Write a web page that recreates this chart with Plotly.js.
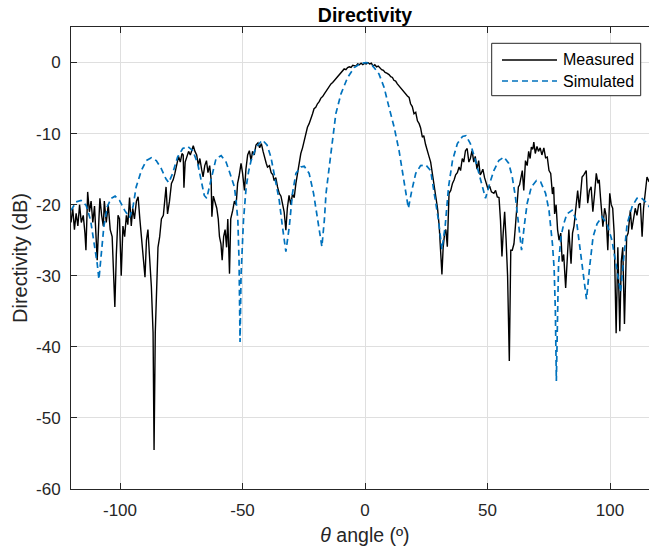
<!DOCTYPE html>
<html>
<head>
<meta charset="utf-8">
<script src="https://cdn.plot.ly/plotly-3.0.1.min.js"></script>
<style>
  html, body { margin: 0; padding: 0; overflow: hidden; background: #fff; }
  #chart { width: 661px; height: 548px; }
</style>
</head>
<body>
<div id="chart"></div>
<script>
// Measured directivity (dB) versus theta (deg)
const measuredTheta = [
  -120, -119.3, -118.6, -117.9, -117.2, -116.5, -115.8, -115.0, -114.3, -113.9,
  -113.2, -112.5, -111.8, -111.1, -110.4, -109.6, -109.3, -108.6, -108.2, -107.5,
  -106.8, -106.4, -105.6, -104.8, -104.0, -103.2, -102.6, -102.1, -101.5, -100.8,
  -100.2, -99.5, -98.8, -98.1, -97.4, -96.8, -96.1, -95.4, -94.8, -94.1,
  -93.3, -92.6, -91.9, -91.2, -90.5, -89.8, -89.2, -88.6, -88.0, -87.2,
  -86.5, -86.1, -85.6, -85.0, -84.5, -83.8, -83.1, -82.3, -81.6, -81.2,
  -80.6, -79.8, -79.0, -78.3, -77.6, -76.9, -76.1, -75.4, -74.7, -74.2,
  -73.9, -73.4, -72.7, -72.0, -71.3, -70.6, -70.1, -69.4, -68.7, -68.0,
  -67.4, -66.7, -66.1, -65.4, -64.7, -64.1, -63.4, -62.8, -62.5, -61.9,
  -61.2, -60.5, -59.9, -59.4, -58.8, -58.3, -57.7, -57.1, -56.5, -56.0,
  -55.3, -54.8, -54.0, -53.3, -52.6, -52.0, -51.4, -50.6, -50.0, -49.2,
  -48.6, -47.9, -47.2, -46.5, -45.9, -45.2, -44.5, -43.7, -43.0, -42.3,
  -41.6, -41.0, -40.3, -39.8, -39.0, -38.3, -37.6, -37.1, -36.4, -35.7,
  -35.0, -34.3, -33.7, -33.0, -32.3, -31.7, -31.0, -30.3, -29.6, -28.9,
  -28.2, -27.5, -26.9, -26.2, -25.5, -24.8, -24.1, -23.5, -22.8, -22.1,
  -21.4, -20.8, -20.1, -19.4, -18.7, -18.0, -17.3, -16.6, -15.9, -15.2,
  -14.5, -13.9, -13.2, -12.5, -11.8, -11.2, -10.5, -9.8, -9.1, -8.5,
  -7.8, -7.1, -6.4, -5.7, -5.0, -4.4, -3.7, -3.0, -2.3, -1.6,
  -0.9, -0.2, 0.5, 1.2, 1.9, 2.6, 3.3, 4.0, 4.7, 5.4,
  6.1, 6.8, 7.5, 8.2, 8.9, 9.8, 10.5, 11.2, 11.8, 12.5,
  13.2, 13.9, 14.6, 15.2, 15.9, 16.6, 17.3, 18.0, 18.6, 19.3,
  20.0, 20.7, 21.4, 22.1, 22.7, 23.4, 24.0, 24.7, 25.4, 26.2,
  26.8, 27.5, 28.2, 28.9, 29.6, 30.3, 30.9, 31.4, 31.9, 32.5,
  33.0, 33.6, 34.3, 35.0, 35.7, 36.4, 37.0, 37.7, 38.4, 39.0,
  39.7, 40.3, 41.0, 41.7, 42.4, 43.0, 43.7, 44.4, 45.0, 45.7,
  46.4, 47.0, 47.4, 48.1, 48.8, 49.6, 50.2, 50.9, 51.6, 52.6,
  53.3, 54.0, 54.7, 55.3, 55.9, 56.4, 57.0, 57.6, 58.2, 58.9,
  59.5, 60.1, 60.8, 61.4, 61.9, 62.6, 63.1, 63.7, 64.2, 64.8,
  65.5, 66.2, 66.8, 67.4, 67.9, 68.5, 68.9, 69.5, 70.2, 70.8,
  71.5, 72.2, 73.0, 73.7, 74.4, 75.1, 75.8, 76.5, 77.0, 77.4,
  78.0, 78.6, 79.2, 79.9, 80.5, 81.1, 81.9, 82.5, 83.2, 84.1,
  84.7, 85.3, 85.8, 86.4, 86.8, 87.5, 88.1, 88.6, 89.3, 90.3,
  90.9, 91.6, 92.3, 93.0, 93.7, 94.4, 95.1, 95.6, 96.1, 96.6,
  97.1, 97.8, 98.4, 99.1, 99.9, 100.5, 101.1, 101.7, 102.1, 102.5,
  103.2, 104.0, 104.6, 105.2, 105.9, 106.2, 106.8, 107.4, 108.3, 108.9,
  109.6, 110.3, 111.0, 111.7, 112.4, 113.1, 113.7, 114.4, 115.1, 116.0
];
const measuredDir = [
  -22.5, -20.5, -23.5, -21.2, -23.0, -20.0, -22.5, -21.5, -24.0, -26.4,
  -18.2, -21.0, -19.5, -22.5, -20.2, -25.0, -27.8, -22.0, -19.1, -21.5,
  -23.0, -19.5, -22.5, -20.0, -23.5, -24.5, -29.0, -34.4, -27.0, -21.5,
  -22.0, -30.0, -23.0, -24.5, -21.5, -22.8, -19.0, -23.0, -20.5, -22.0,
  -19.5, -18.9, -22.0, -24.5, -27.8, -30.2, -25.0, -23.5, -27.0, -31.5,
  -38.0, -54.5, -38.0, -31.0, -26.0, -24.5, -22.0, -21.5, -18.5, -17.5,
  -21.3, -19.5, -17.0, -16.5, -15.6, -14.5, -13.2, -14.0, -12.8, -13.0,
  -17.6, -14.0, -13.2, -12.5, -13.0, -12.2, -11.7, -12.5, -13.0, -14.5,
  -13.5, -15.0, -16.1, -14.5, -13.8, -15.5, -14.5, -16.5, -21.7, -18.8,
  -19.5, -20.5, -22.0, -24.5, -25.5, -27.8, -24.5, -23.5, -26.0, -22.0,
  -29.7, -22.0, -20.8, -19.5, -20.0, -17.0, -16.0, -14.2, -15.5, -18.0,
  -15.0, -13.0, -12.4, -13.8, -12.5, -13.0, -11.6, -11.3, -12.0, -11.4,
  -12.5, -13.5, -14.2, -14.7, -14.5, -15.5, -15.8, -16.6, -16.2, -17.5,
  -18.4, -18.8, -19.8, -21.0, -23.6, -20.5, -18.7, -20.0, -18.5, -19.0,
  -17.0, -15.5, -14.8, -12.8, -12.0, -11.0, -10.3, -9.1, -8.6, -7.7,
  -7.2, -6.5, -6.3, -5.8, -5.5, -5.0, -4.8, -4.4, -4.0, -3.6,
  -3.3, -3.0, -2.8, -2.5, -2.2, -2.1, -1.7, -1.5, -1.2, -0.9,
  -1.0, -0.7, -0.6, -0.7, -0.4, -0.4, -0.5, -0.2, -0.3, -0.1,
  -0.3, -0.1, -0.2, 0.0, -0.2, -0.1, -0.5, -0.3, -0.6, -0.5,
  -0.8, -1.0, -1.1, -1.4, -1.5, -1.7, -2.0, -2.1, -2.5, -2.6,
  -3.0, -3.3, -3.6, -3.9, -4.1, -4.5, -4.7, -4.9, -5.8, -6.2,
  -7.2, -7.0, -8.2, -8.6, -9.2, -10.5, -10.3, -11.5, -12.2, -13.3,
  -14.0, -15.6, -16.8, -18.4, -20.5, -23.1, -26.5, -29.8, -26.0, -24.0,
  -23.5, -25.9, -18.4, -18.0, -17.0, -16.5, -15.8, -15.5, -14.7, -15.2,
  -13.5, -14.0, -12.4, -12.1, -14.0, -13.5, -12.4, -14.0, -13.2, -15.0,
  -13.8, -15.8, -15.6, -15.0, -16.2, -17.3, -17.8, -17.4, -18.2, -18.4,
  -18.0, -18.9, -19.0, -22.2, -27.3, -24.0, -21.0, -25.0, -30.0, -42.0,
  -26.4, -26.4, -25.5, -23.0, -20.8, -17.5, -17.2, -16.0, -15.2, -18.0,
  -13.8, -14.5, -12.5, -13.5, -11.9, -12.2, -11.2, -12.8, -11.8, -12.5,
  -12.0, -13.0, -12.0, -13.4, -13.3, -15.2, -15.6, -18.5, -17.5, -21.3,
  -20.0, -23.5, -25.0, -24.0, -28.0, -27.0, -31.7, -28.0, -23.5, -28.3,
  -24.0, -23.0, -21.5, -19.5, -18.0, -20.5, -17.5, -16.1, -15.8, -15.2,
  -19.8, -18.0, -17.5, -21.0, -18.5, -15.6, -17.0, -16.5, -18.9, -21.0,
  -23.1, -20.5, -21.5, -26.4, -18.4, -20.0, -20.5, -24.0, -31.0, -38.1,
  -26.0, -37.8, -28.0, -26.0, -36.8, -33.0, -24.5, -24.0, -20.8, -23.5,
  -22.0, -20.5, -21.5, -20.0, -19.8, -24.5, -20.5, -18.0, -16.1, -16.8
];

// Simulated directivity (dB) versus theta (deg)
const simTheta = [
  -120, -117.9, -115.9, -113.8, -112.0, -110.7, -109.3, -108.6, -107.7, -106.6,
  -105.2, -103.6, -102.0, -100.2, -98.1, -96.1, -94.7, -93.4, -91.3, -89.3,
  -87.2, -85.2, -83.2, -81.2, -80.1, -78.5, -76.5, -74.4, -72.4, -70.3,
  -68.3, -66.9, -65.6, -64.6, -63.5, -62.1, -60.8, -58.7, -56.7, -55.1,
  -53.3, -52.6, -51.9, -51.4, -51.0, -50.6, -50.1, -49.6, -48.5, -47.5,
  -46.5, -44.4, -41.9, -40.0, -38.4, -36.4, -35.0, -33.7, -32.3, -30.9,
  -29.6, -28.2, -26.2, -24.8, -22.8, -21.0, -19.4, -17.6, -16.6, -15.9,
  -14.6, -13.2, -11.9, -9.8, -7.1, -4.4, -1.6, 0.5, 3.0, 5.7,
  7.8, 9.8, 11.9, 13.9, 15.5, 16.6, 17.7, 19.1, 20.7, 22.7,
  24.8, 26.8, 28.2, 30.0, 31.4, 32.7, 34.1, 35.7, 37.7, 39.8,
  41.2, 43.0, 45.1, 46.9, 48.5, 49.2, 50.9, 52.6, 54.6, 56.7,
  58.7, 60.1, 61.4, 62.8, 63.9, 65.1, 66.2, 67.9, 70.0, 71.7,
  73.7, 75.1, 76.5, 77.2, 77.7, 78.1, 78.5, 79.0, 80.0, 81.1,
  82.4, 84.5, 86.3, 87.6, 89.0, 90.4, 91.7, 93.1, 94.7, 96.7,
  98.8, 100.8, 102.6, 104.3, 105.9, 107.0, 109.0, 111.0, 112.7, 114.5,
  116.5
];
const simDir = [
  -20.8, -19.6, -19.4, -20.1, -22.2, -25.0, -28.3, -30.5, -26.9, -23.1,
  -20.3, -19.1, -18.8, -19.4, -20.8, -21.8, -20.3, -17.5, -15.2, -13.8,
  -13.4, -13.8, -14.9, -16.4, -16.9, -15.6, -13.3, -12.1, -11.8, -12.4,
  -14.2, -16.6, -18.7, -19.1, -17.5, -15.2, -13.5, -13.1, -14.0, -15.6,
  -17.5, -19.5, -22.2, -28.0, -39.3, -30.0, -25.5, -22.2, -17.5, -15.3,
  -13.8, -11.9, -10.9, -11.6, -13.3, -16.6, -19.4, -23.1, -26.6, -23.1,
  -18.4, -15.6, -14.7, -14.6, -15.6, -18.4, -22.2, -25.9, -22.2, -18.4,
  -14.7, -10.5, -7.2, -4.4, -2.1, -0.7, -0.1, 0.0, -0.4, -1.6,
  -3.5, -6.3, -9.1, -12.4, -15.6, -18.4, -20.5, -18.0, -15.6, -14.5,
  -14.4, -15.2, -18.0, -22.2, -26.3, -23.1, -17.5, -13.8, -11.4, -10.4,
  -10.3, -11.4, -13.8, -16.1, -18.4, -19.1, -17.0, -15.2, -13.8, -13.3,
  -14.2, -16.1, -18.9, -22.7, -26.4, -22.7, -19.8, -17.5, -16.6, -16.8,
  -18.4, -20.8, -25.5, -29.0, -35.0, -44.8, -35.0, -28.3, -24.5, -22.7,
  -21.3, -20.8, -22.2, -25.5, -29.2, -33.3, -28.7, -24.5, -22.7, -21.7,
  -22.7, -25.0, -28.7, -32.3, -26.4, -22.7, -20.3, -19.1, -19.0, -19.6,
  -20.5
];

const seriesNames = ['Measured', 'Simulated'];
const xTickVals = [-100, -50, 0, 50, 100];
const yTickVals = [-60, -50, -40, -30, -20, -10, 0];

const FONT = 'Liberation Sans, Arial, Helvetica, sans-serif';
const AXC = '#262626';
const lineStyles = [
  { color: '#000000', width: 1.4 },
  { color: '#0072BD', width: 1.7, dash: '6px,4px' }
];

const traces = [
  { x: measuredTheta, y: measuredDir, type: 'scatter', mode: 'lines',
    name: seriesNames[0], line: lineStyles[0] },
  { x: simTheta, y: simDir, type: 'scatter', mode: 'lines',
    name: seriesNames[1], line: lineStyles[1] }
];

// plot-area geometry in pixels, used to place the legend box
const W = 661, H = 548, ML = 71, MR = 2, MT = 27, MB = 59;
const PW = W - ML - MR, PH = H - MT - MB;
const px = v => (v - ML) / PW;
const py = v => (H - MB - v) / PH;

// legend (drawn manually to match the MATLAB legend geometry)
const legBox = { x0: 491.7, x1: 640.7, y0: 43.3, y1: 95.7 };
const legRows = [60, 81];
const shapes = [
  { type: 'rect', xref: 'paper', yref: 'paper',
    x0: px(legBox.x0), x1: px(legBox.x1), y0: py(legBox.y1), y1: py(legBox.y0),
    line: { color: AXC, width: 1 }, fillcolor: '#ffffff', layer: 'above' }
];
const annotations = [];
legRows.forEach((r, i) => {
  shapes.push({ type: 'line', xref: 'paper', yref: 'paper',
    x0: px(502), x1: px(557), y0: py(r), y1: py(r),
    line: Object.assign({}, lineStyles[i]), layer: 'above' });
  annotations.push({ xref: 'paper', yref: 'paper', x: px(561), y: py(r),
    xanchor: 'left', yanchor: 'middle', showarrow: false,
    text: seriesNames[i], font: { family: FONT, size: 16, color: '#000000' } });
});

const axisCommon = {
  ticks: 'inside', ticklen: 6, tickwidth: 1, tickcolor: AXC,
  showline: true, linecolor: AXC, linewidth: 1, mirror: 'ticks',
  showgrid: true, gridcolor: '#dfdfdf', gridwidth: 1,
  zeroline: false,
  tickfont: { family: FONT, size: 17, color: AXC }
};

const layout = {
  width: W, height: H,
  margin: { l: ML, r: MR, t: MT, b: MB },
  paper_bgcolor: '#ffffff', plot_bgcolor: '#ffffff',
  font: { family: FONT, color: AXC },
  title: {
    text: '<b>Directivity</b>',
    font: { family: FONT, size: 19.5, color: '#000000' },
    x: 0.5, xref: 'paper', xanchor: 'center',
    y: 1 - 15 / 548, yref: 'container', yanchor: 'middle'
  },
  xaxis: Object.assign({}, axisCommon, {
    range: [-120, 120], tickvals: xTickVals, ticktext: xTickVals.map(String),
    ticklabelstandoff: 6,
    title: { text: '<i>θ</i> angle (º)', font: { family: FONT, size: 19.5, color: AXC }, standoff: 8 }
  }),
  yaxis: Object.assign({}, axisCommon, {
    range: [-60, 5], tickvals: yTickVals, ticktext: yTickVals.map(String),
    ticklabelstandoff: 6,
    title: { text: 'Directivity (dB)', font: { family: FONT, size: 20, color: AXC }, standoff: 3 }
  }),
  showlegend: false,
  shapes: shapes,
  annotations: annotations
};

Plotly.newPlot('chart', traces, layout, { displayModeBar: false, staticPlot: true });
</script>
</body>
</html>
